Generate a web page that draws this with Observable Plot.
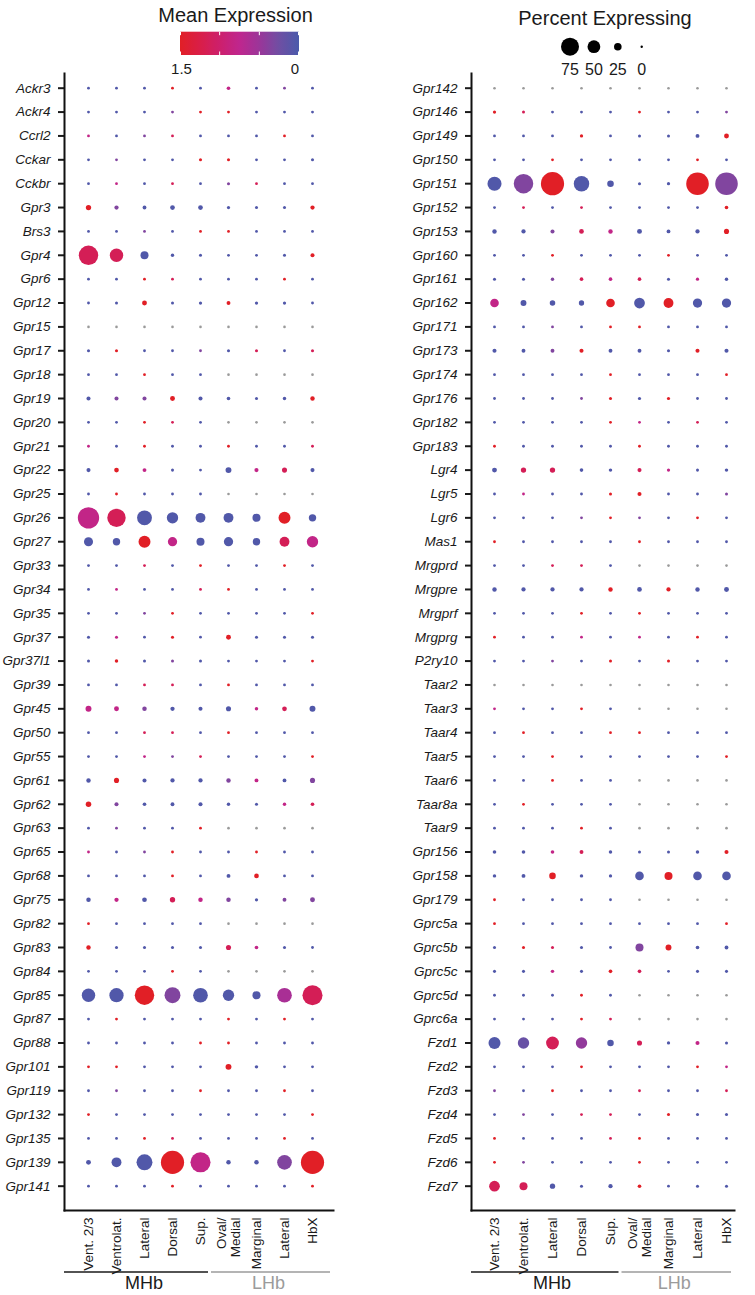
<!DOCTYPE html>
<html><head><meta charset="utf-8">
<script src="https://cdn.jsdelivr.net/npm/d3@7"></script>
<script src="https://cdn.jsdelivr.net/npm/@observablehq/plot@0.6"></script>
<style>
body{margin:0;background:#fff;font-family:"Liberation Sans",Arial,sans-serif}
#wrap{position:relative;width:755px;height:1295px;overflow:hidden}
#left,#right{position:absolute;top:0}
#left{left:0}
#right{left:377px}
</style></head>
<body><div id="wrap"><div id="left"></div><div id="right"></div></div>
<script>
// expression levels (mean expression), null = not detected (gray)
const B = 0.05, P = 0.35, M = 0.8, C = 1.15, R = 1.5, G = null;

const columnKeys = ["vent", "ventrolat", "mhbLat", "dorsal", "sup", "ovalMedial", "marginal", "lhbLat", "hbx"];
const columnLabels = ["Vent. 2/3", "Ventrolat.", "Lateral", "Dorsal", "Sup.", "Oval/\nMedial", "Marginal", "Lateral", "HbX"];
const groupNames = ["MHb", "LHb"];
const colorTicks = [1.5, 1.0, 0.5, 0];
const colorLabels = ["1.5", "0"];
const sizeLegendValues = [75, 50, 25, 0];

const genesLeft = ["Ackr3","Ackr4","Ccrl2","Cckar","Cckbr","Gpr3","Brs3","Gpr4","Gpr6","Gpr12","Gpr15","Gpr17","Gpr18","Gpr19","Gpr20","Gpr21","Gpr22","Gpr25","Gpr26","Gpr27","Gpr33","Gpr34","Gpr35","Gpr37","Gpr37l1","Gpr39","Gpr45","Gpr50","Gpr55","Gpr61","Gpr62","Gpr63","Gpr65","Gpr68","Gpr75","Gpr82","Gpr83","Gpr84","Gpr85","Gpr87","Gpr88","Gpr101","Gpr119","Gpr132","Gpr135","Gpr139","Gpr141"];

const pctLeft = [
[2,2,2,2,2,6,2,2,2],
[2,2,2,2,2,2,2,2,2],
[2,2,2,2,2,2,2,2,2],
[2,2,2,2,3,3,2,2,3],
[2,2,2,2,2,3,2,2,2],
[14,9,7,11,11,4,3,3,9],
[2,2,2,2,2,2,2,2,2],
[82,53,27,5,3,2,2,3,8],
[2,2,2,2,2,2,2,2,2],
[2,3,12,3,4,7,4,4,2],
[1,1,1,1,1,1,1,1,1],
[3,3,2,2,2,3,3,2,3],
[2,2,2,2,2,1,1,1,1],
[8,8,8,12,8,6,3,5,10],
[2,2,2,2,2,1,1,1,1],
[2,2,2,2,2,2,2,2,2],
[8,11,7,3,2,17,8,13,8],
[2,2,2,2,2,1,1,1,1],
[91,77,60,43,36,36,27,46,24],
[32,24,46,33,27,33,24,36,43],
[2,2,2,2,2,2,2,2,2],
[2,2,2,2,2,2,2,2,2],
[2,2,2,2,2,2,2,2,2],
[3,3,2,3,2,12,3,3,3],
[3,5,3,3,3,2,2,2,2],
[2,2,2,2,2,2,2,2,2],
[17,12,10,9,8,13,5,11,17],
[2,2,2,2,2,2,2,2,2],
[2,2,2,2,2,2,2,2,2],
[10,13,8,9,9,10,7,7,13],
[15,8,6,7,8,5,3,5,6],
[2,2,2,2,2,1,1,1,1],
[2,2,2,2,2,2,2,2,2],
[2,2,2,2,2,7,11,2,2],
[10,9,11,14,10,10,4,7,12],
[2,2,2,2,2,1,1,1,1],
[10,3,3,3,3,13,6,3,2],
[2,2,2,2,2,1,1,1,1],
[53,57,82,65,59,43,27,59,85],
[2,2,2,2,2,2,2,2,2],
[2,2,2,2,2,2,2,2,2],
[2,2,2,2,2,17,5,2,2],
[2,2,2,2,2,2,2,2,2],
[2,2,2,2,2,2,2,2,2],
[2,2,2,2,2,2,2,2,2],
[12,36,65,100,85,10,10,59,100],
[2,2,2,2,2,2,2,2,2]
];

const exprLeft = [
[B,B,B,R,B,M,B,P,B],
[B,B,B,P,R,R,B,B,B],
[M,B,P,C,B,B,B,R,B],
[B,P,B,B,R,R,B,B,B],
[B,M,B,C,B,P,C,B,B],
[R,P,B,B,B,B,B,B,R],
[B,B,P,B,R,R,B,B,B],
[C,C,B,B,B,B,B,B,R],
[B,B,R,C,B,B,B,R,B],
[B,B,R,B,B,R,B,B,B],
[G,G,G,G,G,G,G,G,G],
[B,R,B,B,P,B,C,B,C],
[B,B,R,B,B,G,G,G,G],
[B,P,P,R,B,B,B,B,R],
[B,B,R,C,B,G,G,G,G],
[M,B,R,B,B,R,B,B,C],
[B,R,M,B,B,B,M,C,B],
[B,R,B,B,B,G,G,G,G],
[M,C,B,B,B,B,B,R,B],
[B,B,R,M,B,B,B,C,M],
[B,B,C,B,R,B,B,R,B],
[B,M,B,B,C,R,B,B,B],
[B,B,P,R,B,B,B,B,R],
[B,M,B,R,B,R,B,B,B],
[B,R,B,P,B,B,B,B,R],
[B,B,C,C,B,R,B,B,B],
[M,M,P,B,B,B,M,C,B],
[B,B,C,C,B,R,B,B,B],
[B,B,M,P,C,B,B,B,R],
[B,R,B,B,B,P,M,B,P],
[R,P,B,B,B,B,B,M,C],
[B,P,B,B,R,G,G,G,G],
[M,B,P,R,B,B,R,B,B],
[B,B,B,R,B,B,R,B,B],
[B,M,B,C,M,P,B,P,P],
[R,B,B,B,B,G,G,G,G],
[R,B,B,B,B,C,M,B,B],
[B,B,B,R,B,G,G,G,G],
[B,B,R,P,B,B,B,0.6,C],
[B,R,B,B,B,R,B,R,B],
[B,B,B,B,R,R,B,B,B],
[R,R,B,B,B,R,B,B,B],
[B,P,B,B,R,B,B,R,B],
[R,B,B,B,B,B,B,B,R],
[B,B,R,C,B,B,B,R,B],
[B,B,B,R,M,B,B,P,R],
[B,B,B,R,B,B,B,B,R]
];

const genesRight = ["Gpr142","Gpr146","Gpr149","Gpr150","Gpr151","Gpr152","Gpr153","Gpr160","Gpr161","Gpr162","Gpr171","Gpr173","Gpr174","Gpr176","Gpr182","Gpr183","Lgr4","Lgr5","Lgr6","Mas1","Mrgprd","Mrgpre","Mrgprf","Mrgprg","P2ry10","Taar2","Taar3","Taar4","Taar5","Taar6","Taar8a","Taar9","Gpr156","Gpr158","Gpr179","Gprc5a","Gprc5b","Gprc5c","Gprc5d","Gprc6a","Fzd1","Fzd2","Fzd3","Fzd4","Fzd5","Fzd6","Fzd7"];

const pctRight = [
[1,1,1,1,1,1,1,1,1],
[4,3,2,2,2,2,2,2,2],
[2,2,2,4,2,3,3,7,12],
[2,2,2,2,2,2,2,2,2],
[56,82,100,63,20,3,4,97,97],
[2,2,2,2,2,2,2,2,6],
[10,9,8,11,10,12,7,9,13],
[2,2,2,2,2,2,2,2,2],
[3,3,5,6,6,6,3,4,5],
[30,17,15,14,30,40,36,33,33],
[2,2,2,2,2,2,2,2,2],
[8,7,7,8,7,7,3,8,8],
[2,2,2,2,2,2,2,2,2],
[2,2,2,2,3,4,4,2,2],
[2,2,2,2,2,2,2,2,2],
[2,2,2,2,2,2,2,2,2],
[12,14,14,6,5,8,4,3,5],
[2,2,2,2,3,8,2,2,3],
[2,2,2,2,2,2,2,2,2],
[2,2,2,2,2,2,2,2,2],
[2,2,2,2,2,1,1,1,1],
[10,9,9,9,10,11,9,10,12],
[2,2,2,2,2,2,2,2,2],
[2,2,2,2,2,2,2,2,2],
[2,2,2,2,3,2,3,2,2],
[1,1,1,1,1,1,1,1,1],
[2,2,2,2,2,1,1,1,1],
[2,2,2,2,2,2,2,2,2],
[2,2,2,2,2,2,2,2,2],
[2,2,2,2,2,1,1,1,1],
[2,2,2,2,2,1,1,1,1],
[2,2,2,2,2,1,1,1,1],
[6,6,6,7,5,3,3,5,8],
[5,7,20,5,4,30,27,30,30],
[2,2,2,2,2,1,1,1,1],
[2,2,2,2,2,2,2,2,2],
[3,3,3,3,2,27,17,6,7],
[3,3,5,3,6,6,2,3,3],
[2,2,2,2,2,1,1,1,1],
[2,2,2,2,2,1,1,1,1],
[46,43,50,43,20,13,4,8,3],
[2,2,2,2,2,2,2,2,2],
[2,2,2,2,2,2,2,2,2],
[2,2,2,2,2,2,3,3,3],
[2,2,2,2,2,2,2,2,2],
[2,2,2,2,2,2,2,2,2],
[40,27,14,3,9,6,2,3,3]
];

const exprRight = [
[G,G,G,G,G,G,G,G,G],
[R,C,B,B,B,R,B,B,P],
[B,B,B,R,B,B,B,B,R],
[B,B,R,B,B,B,B,R,B],
[B,P,R,B,B,B,B,R,P],
[B,C,B,C,B,B,B,B,R],
[B,B,P,C,M,B,B,B,R],
[B,B,R,B,B,B,R,B,B],
[B,B,P,C,M,C,B,M,B],
[M,B,B,B,R,B,R,B,B],
[B,B,P,B,R,R,B,B,B],
[B,B,P,R,B,B,B,R,B],
[B,B,B,B,R,B,B,B,R],
[B,B,B,P,R,B,R,B,B],
[B,B,B,B,R,M,B,C,B],
[R,B,B,B,B,R,B,B,B],
[B,C,C,B,B,C,M,B,B],
[B,M,B,B,R,R,B,B,P],
[B,B,B,P,R,P,B,R,B],
[R,B,B,B,B,R,B,B,B],
[B,B,C,C,B,G,G,G,G],
[B,B,B,B,R,B,R,B,B],
[B,B,B,R,B,R,B,B,B],
[R,B,B,M,B,M,B,R,B],
[B,B,P,B,R,B,R,B,B],
[G,G,G,G,G,G,G,G,G],
[M,B,B,R,B,G,G,G,G],
[B,R,B,B,R,R,B,B,B],
[B,B,R,B,B,B,B,B,R],
[B,B,R,B,B,G,G,G,G],
[B,R,B,B,B,G,G,G,G],
[B,B,B,R,B,G,G,G,G],
[B,B,M,C,B,B,B,B,R],
[B,B,R,B,B,B,R,B,B],
[R,B,B,B,B,G,G,G,G],
[R,B,B,B,B,B,B,B,R],
[B,R,C,B,B,P,R,B,B],
[B,B,M,B,R,C,B,B,B],
[B,B,B,R,B,G,G,G,G],
[B,B,B,R,C,G,G,G,G],
[B,0.2,C,0.45,B,C,B,M,B],
[B,B,B,R,B,B,B,R,M],
[P,B,R,B,B,C,B,B,C],
[B,P,B,C,C,B,R,B,B],
[R,B,B,B,C,R,B,B,B],
[R,P,B,B,B,R,B,B,B],
[C,C,B,B,B,R,B,B,B]
];

const FONT = "Liberation Sans, Arial, sans-serif";
const TEXT = "#1a1a1a";
const H = 1295, MT = 73, MB = 85;
const colorOpts = {type: "linear", domain: [0, 0.25, 0.5, 0.75, 1, 1.25, 1.5],
  range: ["#4a5aab", "#6f4fa3", "#9b3599", "#bf268e", "#cd1f6c", "#d91e47", "#e11f26"], interpolate: "rgb"};
const rOpts = {type: "linear", domain: [0, 100], range: [1.2, 11.6]};

function panel(genes, pct, expr, cfg) {
  const data = [];
  genes.forEach((g, i) => columnKeys.forEach((c, j) => data.push({gene: g, col: c, pct: pct[i][j], expr: expr[i][j]})));
  const lab = new Map(columnKeys.map((k, i) => [k, columnLabels[i]]));
  const chart = Plot.plot({
    width: cfg.width, height: H,
    marginLeft: cfg.ml, marginRight: cfg.mr, marginTop: MT, marginBottom: MB,
    style: {fontFamily: FONT, color: TEXT, background: "transparent", overflow: "visible"},
    x: {type: "point", domain: columnKeys, range: cfg.xr, padding: 0},
    y: {type: "point", domain: genes, range: [87.7, 1185.7], padding: 0},
    r: rOpts,
    color: colorOpts,
    marks: [
      Plot.axisY({tickSize: 6, tickPadding: 8, strokeWidth: 2, fontSize: 13.5, fontStyle: "italic", label: null, fill: TEXT}),
      Plot.axisX({anchor: "bottom", tickSize: 0, tickPadding: 7, tickRotate: -90, fontSize: 13.5, label: null,
        tickFormat: k => lab.get(k), fill: TEXT}),
      Plot.frame({anchor: "left", strokeWidth: 2, stroke: "#111"}),
      Plot.frame({anchor: "bottom", strokeWidth: 2, stroke: "#111"}),
      Plot.dot(data.filter(d => d.expr == null), {x: "col", y: "gene", r: "pct", fill: "#9a9a9a"}),
      Plot.dot(data.filter(d => d.expr != null), {x: "col", y: "gene", r: "pct", fill: "expr"})
    ]
  });
  // group brackets
  const xs = chart.scale("x");
  const svg = d3.select(chart);
  const xSup = xs.apply("sup"), xOval = xs.apply("ovalMedial");
  const mid = (xSup + xOval) / 2;
  const fl = cfg.ml, fr = cfg.width - cfg.mr;
  const spans = [
    {x1: fl, x2: mid - 6, c: (xs.apply("vent") + xSup) / 2, color: "#1a1a1a"},
    {x1: mid - 3, x2: fr - 3, c: ((mid - 3) + (fr - 3)) / 2 - 2, color: "#9b9b9b"}
  ];
  spans.forEach((s, i) => {
    svg.append("line").attr("x1", s.x1).attr("x2", s.x2).attr("y1", 1272).attr("y2", 1272)
      .attr("stroke", s.color).attr("stroke-width", 1.6);
    svg.append("text").attr("x", s.c).attr("y", 1289).attr("text-anchor", "middle")
      .attr("font-size", 18).attr("fill", s.color).attr("font-family", FONT).text(groupNames[i]);
  });
  return chart;
}

const left = panel(genesLeft, pctLeft, exprLeft, {width: 377, ml: 64, mr: 44, xr: [84.3, 315.7]});
const right = panel(genesRight, pctRight, exprRight, {width: 378, ml: 94, mr: 21, xr: [116, 349.3]});
document.getElementById("left").appendChild(left);
document.getElementById("right").appendChild(right);

// colour legend (left svg)
{
  const svg = d3.select(left);
  const cs = left.scale("color");
  const bx = 180, bw = 119, by = 31.7, bh = 23.3;
  const lx = d3.scaleLinear().domain([1.5, 0]).range([bx, bx + bw]);
  const grad = svg.append("defs").append("linearGradient").attr("id", "cbar").attr("x1", "0%").attr("x2", "100%");
  d3.range(0, 1.0001, 0.05).forEach(t => grad.append("stop").attr("offset", t).attr("stop-color", cs.apply(1.5 - 1.5 * t)));
  svg.append("text").attr("x", 235.5).attr("y", 21.7).attr("text-anchor", "middle").attr("font-size", 20)
    .attr("font-family", FONT).attr("fill", TEXT).text("Mean Expression");
  svg.append("rect").attr("x", bx).attr("y", by).attr("width", bw).attr("height", bh).attr("fill", "url(#cbar)");
  colorTicks.forEach(v => {
    const x = Math.min(Math.max(lx(v), bx + 0.5), bx + bw - 0.5);
    svg.append("line").attr("x1", x).attr("x2", x).attr("y1", by).attr("y2", by + 3.5).attr("stroke", "#fff").attr("stroke-width", 1);
    svg.append("line").attr("x1", x).attr("x2", x).attr("y1", by + bh - 3.5).attr("y2", by + bh).attr("stroke", "#fff").attr("stroke-width", 1);
  });
  [[1.5, colorLabels[0], 1.5], [0, colorLabels[1], -4]].forEach(([v, s, dx]) => {
    svg.append("text").attr("x", lx(v) + dx).attr("y", 74).attr("text-anchor", "middle").attr("font-size", 15)
      .attr("font-family", FONT).attr("fill", TEXT).text(s);
  });
}
// size legend (right svg)
{
  const svg = d3.select(right);
  const rs = right.scale("r");
  svg.append("text").attr("x", 228).attr("y", 25).attr("text-anchor", "middle").attr("font-size", 20)
    .attr("font-family", FONT).attr("fill", TEXT).text("Percent Expressing");
  sizeLegendValues.forEach((v, i) => {
    const cx = 193 + i * 23.9;
    svg.append("circle").attr("cx", cx).attr("cy", 46.7).attr("r", rs.apply(v)).attr("fill", "#000");
    svg.append("text").attr("x", cx).attr("y", 75).attr("text-anchor", "middle").attr("font-size", 16)
      .attr("font-family", FONT).attr("fill", TEXT).text(String(v));
  });
}
</script>
</body></html>
